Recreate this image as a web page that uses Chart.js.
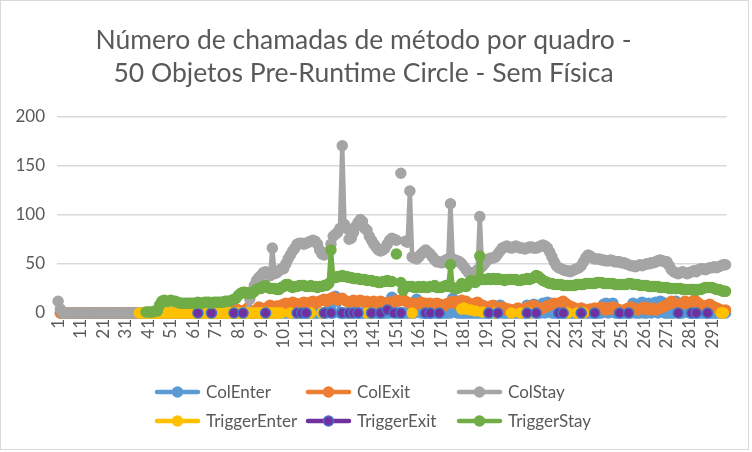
<!DOCTYPE html>
<html>
<head>
<meta charset="utf-8">
<title>Número de chamadas de método por quadro</title>
<script src="https://cdn.jsdelivr.net/npm/chart.js@4.4.0/dist/chart.umd.min.js"></script>
<style>
  html, body { margin: 0; padding: 0; background: #fff; }
</style>
</head>
<body>
<canvas id="chart" width="752" height="452"></canvas>
<script>
// frame numbers on the category axis
const N = null;
const frames = Array.from({ length: 297 }, (_, i) => String(i + 1));
const tickLabels = ['1','11','21','31','41','51','61','71','81','91','101','111','121','131','141',
  '151','161','171','181','191','201','211','221','231','241','251','261','271','281','291'];
const yTicks = [0, 50, 100, 150, 200];

const colEnter = [
  N,0,0,0,0,0,0,0,0,0,
  0,0,0,0,0,0,0,0,0,0,
  0,0,0,0,0,0,0,0,0,0,
  0,0,0,0,0,0,0,0,0,0,
  0,0,0,0,0,0,0,0,0,0,
  0,0,0,0,0,0,0,0,0,0,
  0,0,0,0,0,0,0,0,0,0,
  0,0,0,0,0,0,0,0,0,0,
  0,0,0,0,0,0,0,0,0,0,
  0,0,0,0,0,0,0,0,0,0,
  0,0,0,0,0,0,0,0,0,0,
  0,0,0,0,0,0,0,0,0,0,
  10,12,0,17,14,0,0,0,0,0,
  0,0,10,0,0,0,0,0,0,0,
  0,0,0,0,0,0,0,0,16,14,
  0,0,0,0,0,0,0,0,0,14,
  11,0,0,0,0,0,0,0,0,0,
  0,0,0,0,0,15,12,0,0,0,
  0,0,0,0,0,0,0,0,0,0,
  0,0,0,0,0,0,8,0,0,0,
  0,0,0,0,0,0,0,0,8,0,
  0,9,0,0,0,10,0,11,10,0,
  0,0,0,0,0,0,0,0,0,0,
  0,0,0,0,0,0,0,0,0,0,
  0,0,9,10,0,8,10,0,0,0,
  0,0,0,0,0,10,0,0,0,11,
  0,0,10,0,9,11,0,12,11,0,
  0,0,0,0,12,0,0,0,9,10,
  0,0,0,0,0,0,0,0,0,0,
  0,0,0,0,0,0,0
];

const colExit = [
  N,0,0,0,0,0,0,0,0,0,
  0,0,0,0,0,0,0,0,0,0,
  0,0,0,0,0,0,0,0,0,0,
  0,0,0,0,0,0,0,0,0,0,
  0,0,0,0,0,0,0,0,0,0,
  0,0,0,0,0,0,0,0,0,0,
  0,0,0,0,0,0,0,0,0,0,
  0,0,0,0,2,3,1,0,2,4,
  3,2,1,3,5,2,0,1,3,6,
  5,4,3,6,8,5,4,7,6,8,
  9,10,8,9,11,10,9,8,10,11,
  10,9,11,12,10,11,12,13,14,12,
  13,15,16,14,13,14,15,13,12,11,
  12,13,11,12,13,12,11,12,10,11,
  12,11,10,12,11,10,9,11,10,12,
  13,12,13,14,12,11,10,9,10,9,
  10,11,9,10,8,10,9,8,10,9,
  8,7,9,10,11,12,10,9,12,13,
  11,12,10,9,8,10,11,9,8,7,
  6,5,7,8,6,5,4,6,5,3,
  4,3,2,4,5,3,2,4,6,5,
  7,8,6,5,4,5,6,7,8,9,
  10,9,8,11,12,10,8,7,6,5,
  4,3,5,4,3,2,4,3,5,4,
  5,6,4,3,5,4,6,5,4,3,
  2,3,4,5,6,5,4,3,4,5,
  6,4,3,5,4,3,4,5,6,7,
  8,10,12,11,9,7,8,10,12,11,
  9,11,13,12,10,8,6,7,8,9,
  7,6,5,4,3,2,3
];

const colStay = [
  12,4,0,0,0,0,0,0,0,0,
  0,0,0,0,0,0,0,0,0,0,
  0,0,0,0,0,0,0,0,0,0,
  0,0,0,0,0,0,0,0,0,0,
  0,0,0,0,0,0,0,0,0,0,
  0,0,0,0,0,0,0,0,0,0,
  0,0,0,0,0,0,0,0,0,0,
  0,0,0,0,0,0,0,0,0,0,
  0,0,0,0,0,14,22,28,33,36,
  38,41,42,40,38,66,40,41,43,45,
  45,50,55,59,63,66,70,71,71,70,
  71,72,73,74,73,70,64,60,59,61,
  62,70,78,80,82,86,170,90,86,75,
  76,82,88,92,95,93,86,84,78,74,
  70,67,64,63,64,66,70,74,76,75,
  74,N,142,N,73,72,124,57,56,55,
  57,60,62,64,62,60,57,54,52,52,
  51,52,54,55,111,55,54,53,52,50,
  47,44,41,40,41,42,44,98,47,50,
  53,55,56,56,57,60,63,66,67,68,
  67,66,67,68,67,66,66,65,66,67,
  67,66,66,67,68,69,68,66,62,57,
  52,48,46,45,44,43,43,42,43,44,
  45,46,48,52,56,59,58,56,55,55,
  55,54,54,53,53,54,53,52,52,52,
  51,51,50,49,48,48,47,48,49,48,
  49,50,50,51,51,52,53,54,53,52,
  52,48,44,42,41,40,41,42,41,40,
  41,42,43,42,44,45,45,44,45,46,
  46,47,46,47,48,49,49
];

const triggerEnter = [
  N,N,N,N,N,N,N,N,N,N,
  N,N,N,N,N,N,N,N,N,N,
  N,N,N,N,N,N,N,N,N,N,
  N,N,N,N,N,N,0,0,0,0,
  0,0,0,0,0,0,0,0,0,0,
  0,0,0,0,0,0,0,0,0,0,
  0,0,0,0,0,0,0,0,0,0,
  0,0,0,0,0,0,0,0,0,0,
  0,0,0,0,0,0,0,0,0,0,
  0,0,0,0,0,0,0,0,0,0,
  N,N,N,0,N,N,N,0,N,N,
  N,N,0,N,N,N,N,0,N,N,
  N,N,N,N,N,N,N,N,N,0,
  N,N,N,N,N,N,N,0,N,0,
  N,N,N,N,N,N,N,N,N,N,
  N,N,N,N,N,N,N,0,N,N,
  N,N,N,N,N,N,N,N,N,N,
  N,N,N,N,N,N,N,N,N,4,
  5,4,N,3,N,2,N,N,1,N,
  N,N,N,N,0,N,N,N,N,N,
  N,0,N,N,N,0,N,N,N,0,
  N,N,N,N,N,N,N,N,N,N,
  N,N,N,N,N,N,0,N,N,N,
  0,N,N,0,N,N,N,N,N,N,
  N,N,N,N,N,N,N,N,N,N,
  N,N,N,N,N,N,N,N,N,N,
  N,N,N,N,N,N,N,N,N,N,
  N,N,N,N,N,N,N,N,N,N,
  N,N,N,N,N,N,N,N,N,N,
  N,N,N,N,0,0,N
];

const triggerExit = [
  N,N,N,N,N,N,N,N,N,N,
  N,N,N,N,N,N,N,N,N,N,
  N,N,N,N,N,N,N,N,N,N,
  N,N,N,N,N,N,N,N,N,N,
  N,N,N,N,N,N,N,N,N,N,
  N,N,N,N,N,N,N,N,N,N,
  N,N,0,N,N,N,N,N,0,N,
  N,N,N,N,N,N,N,N,0,N,
  N,N,0,N,N,N,N,N,N,N,
  N,N,0,N,N,N,N,N,N,N,
  N,N,N,N,N,N,0,N,0,N,
  0,N,N,N,N,N,N,N,0,N,
  N,0,N,N,N,N,0,N,N,0,
  N,0,N,0,N,N,N,N,N,0,
  N,N,N,0,N,N,3,N,N,0,
  N,N,0,N,N,N,N,N,N,N,
  N,N,N,0,N,0,N,N,N,0,
  N,N,N,N,N,N,N,N,N,N,
  N,N,N,N,N,N,N,N,N,N,
  N,0,N,N,N,0,N,N,N,N,
  N,N,N,N,N,N,N,N,0,N,
  N,N,0,N,N,N,N,N,N,N,
  N,N,0,N,0,N,N,N,N,N,
  N,N,0,N,N,N,N,N,0,N,
  N,N,N,N,N,N,N,N,N,0,
  N,N,N,0,N,N,N,N,N,N,
  N,N,N,N,N,N,N,N,N,N,
  N,N,N,N,N,0,N,N,N,N,
  N,0,N,0,N,N,N,N,0,N,
  N,N,N,N,N,N,N
];

const triggerStay = [
  N,N,N,N,N,N,N,N,N,N,
  N,N,N,N,N,N,N,N,N,N,
  N,N,N,N,N,N,N,N,N,N,
  N,N,N,N,N,N,N,N,N,1,
  1,1,1,2,2,8,12,13,12,12,
  13,12,12,11,10,10,10,10,10,10,
  10,10,11,10,10,11,11,11,10,11,
  11,11,11,11,12,12,12,13,14,15,
  18,20,21,21,20,20,20,22,24,25,
  25,27,28,26,25,25,25,24,24,26,
  27,29,29,27,26,27,27,28,28,28,
  27,27,28,27,27,26,27,27,28,28,
  30,64,36,36,37,37,38,37,37,36,
  36,35,35,35,34,34,34,33,33,33,
  32,32,31,31,32,32,33,32,32,N,
  60,N,31,23,27,27,27,27,26,26,
  27,26,27,26,26,27,27,28,26,26,
  26,27,28,27,49,26,25,25,26,30,
  28,27,30,33,32,31,33,58,34,34,
  34,35,34,35,34,35,34,34,33,34,
  34,34,34,34,33,33,34,34,35,34,
  35,36,38,37,35,33,32,31,30,30,
  29,29,29,29,28,28,28,28,28,28,
  29,29,29,29,30,30,30,30,30,31,
  31,31,30,30,30,30,30,29,29,29,
  29,29,29,30,30,29,29,29,28,28,
  28,28,27,27,27,27,27,26,26,26,
  26,25,25,25,25,25,25,24,24,24,
  24,24,24,23,24,24,25,26,26,26,
  26,25,24,24,23,22,22
];

const FONT = 'Lato, "Open Sans", sans-serif';
const TEXT = '#595959';
Chart.defaults.font.family = FONT;
Chart.defaults.color = TEXT;

// one Excel-like line series; order makes later series draw on top
function series(label, data, color, order, markerBorder) {
  return {
    label: label,
    data: data,
    borderColor: color,
    backgroundColor: color,
    pointBackgroundColor: color,
    pointBorderColor: markerBorder || color,
    borderWidth: 4.5,
    pointRadius: 5,
    pointBorderWidth: 1.5,
    pointHoverRadius: 5,
    tension: 0,
    borderJoinStyle: 'round',
    borderCapStyle: 'round',
    spanGaps: false,
    clip: false,
    order: order
  };
}

// white page + thin chart border
const chartFrame = {
  id: 'chartFrame',
  beforeDraw(chart) {
    const ctx = chart.ctx;
    ctx.save();
    ctx.fillStyle = '#fff';
    ctx.fillRect(0, 0, chart.width, chart.height);
    ctx.strokeStyle = '#d9d9d9';
    ctx.lineWidth = 1;
    ctx.strokeRect(0.5, 0.5, chart.width - 4, chart.height - 3);
    ctx.restore();
  }
};

// legend in a 3-column grid, line + marker like Excel
const gridLegend = {
  id: 'gridLegend',
  afterDraw(chart) {
    const ctx = chart.ctx;
    ctx.save();
    ctx.font = '17px ' + FONT;
    ctx.textBaseline = 'middle';
    chart.data.datasets.forEach((ds, i) => {
      const col = i % 3, row = Math.floor(i / 3);
      const x0 = 155 + col * 151;
      const y = 392 + row * 29;
      ctx.strokeStyle = ds.borderColor;
      ctx.lineWidth = 4.5;
      ctx.lineCap = 'round';
      ctx.beginPath();
      ctx.moveTo(x0 + 2, y);
      ctx.lineTo(x0 + 43, y);
      ctx.stroke();
      ctx.beginPath();
      ctx.arc(x0 + 22.5, y, 5, 0, Math.PI * 2);
      ctx.fillStyle = ds.pointBackgroundColor;
      ctx.fill();
      ctx.lineWidth = 1.5;
      ctx.strokeStyle = ds.pointBorderColor;
      ctx.stroke();
      ctx.fillStyle = TEXT;
      ctx.fillText(ds.label, x0 + 51, y + 1);
    });
    ctx.restore();
  }
};

new Chart(document.getElementById('chart'), {
  type: 'line',
  data: {
    labels: frames,
    datasets: [
      series('ColEnter', colEnter, '#5B9BD5', 6),
      series('ColExit', colExit, '#ED7D31', 5),
      series('ColStay', colStay, '#A5A5A5', 4),
      series('TriggerEnter', triggerEnter, '#FFC000', 3),
      series('TriggerExit', triggerExit, '#7030A0', 2, '#4472C4'),
      series('TriggerStay', triggerStay, '#70AD47', 1)
    ]
  },
  options: {
    responsive: false,
    animation: false,
    events: [],
    layout: { padding: { left: 0, right: 25, top: 0, bottom: 79 } },
    plugins: {
      legend: { display: false },
      tooltip: { enabled: false },
      title: {
        display: true,
        text: ['Número de chamadas de método por quadro -', '50 Objetos Pre-Runtime Circle - Sem Física'],
        color: TEXT,
        font: { size: 26.5, weight: 'normal', lineHeight: 1.25 },
        padding: { top: 24, bottom: 26 }
      }
    },
    scales: {
      x: {
        offset: true,
        grid: { display: false, drawTicks: false },
        border: { display: true, color: '#d9d9d9', width: 1.5 },
        ticks: {
          autoSkip: false,
          minRotation: 90,
          maxRotation: 90,
          padding: 6,
          color: TEXT,
          font: { size: 17 },
          callback: function (value) {
            const l = this.getLabelForValue(value);
            return tickLabels.includes(l) ? l : '';
          }
        },
        afterFit: (s) => { s.height = 60; }
      },
      y: {
        min: yTicks[0],
        max: yTicks[yTicks.length - 1],
        grid: { color: '#d9d9d9', lineWidth: 1.5, drawTicks: false },
        border: { display: false },
        ticks: {
          stepSize: 50,
          padding: 12,
          color: TEXT,
          font: { size: 17 }
        },
        afterBuildTicks: (s) => { s.ticks = yTicks.map(v => ({ value: v })); },
        afterFit: (s) => { s.width = 57; }
      }
    }
  },
  plugins: [chartFrame, gridLegend]
});
</script>
</body>
</html>
